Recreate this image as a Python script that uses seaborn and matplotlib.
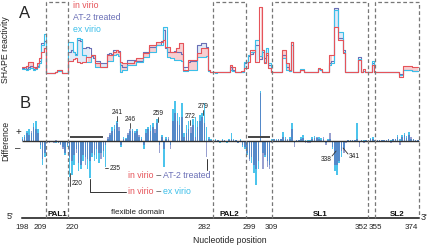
import numpy as np
import pandas as pd
import matplotlib.pyplot as plt
import seaborn as sns

sns.set_theme(style='white')
plt.rcParams['font.family'] = ['Liberation Sans', 'DejaVu Sans']

# nucleotide positions 198..374
nt = np.arange(198, 375)

# SHAPE reactivity (panel A), one value per nucleotide
in_virio = [
    .32, .32, .35, .55, .55, .30, .27, .50, .73, 1.00,
    1.18, .05, .05, .05, .05, .10, .18, .18, .05, .05,
    .05, .60, .60, .70, .73, .55, .50, .55, .55, .77,
    .77, .86, .86, .50, .50, .32, .32, .32, .86, .86,
    .86, 1.00, 1.09, 1.00, .55, .50, .50, .50, .50, .50,
    .60, .73, .73, .73, .95, .95, .95, 1.32, 1.32, 1.32,
    1.45, 1.45, 1.45, 1.55, 1.23, 1.23, 1.00, 1.00, 1.00, 1.20,
    1.41, 1.41, .20, .20, .64, .64, .64, .64, .95, .95,
    1.18, 1.18, 1.18, .18, .09, .09, .09, .09, .09, .09,
    .09, .09, .09, .41, .30, .09, .09, .09, .15, .27,
    .27, .55, 1.09, 1.09, .55, .55, 3.05, 1.09, .50, .95,
    .27, .09, .09, .09, .09, .09, 1.09, 1.09, .50, .18,
    1.45, .09, .09, .09, .18, .18, .09, .09, .09, .09,
    .09, .09, .27, .23, .09, .09, .09, .86, .86, 2.14,
    2.14, 1.55, 1.55, .95, .09, .09, .09, .09, .09, .09,
    .64, .09, .23, .09, .09, .09, .40, .09, .09, .09,
    .09, .09, .09, .09, .09, .09, .09, .09, -.14, -.14,
    .36, .36, .36, .36, .30, .30, .30]
at2_treated = [
    .27, .30, .25, .30, .35, .25, .30, .35, .60, 1.40,
    1.50, .05, .05, .05, .05, .10, .15, .20, .05, .05,
    .05, 1.00, 1.10, 1.00, .90, 1.55, 1.50, 1.18, 1.20, 1.23,
    1.20, .80, .75, .60, .60, .50, .50, .50, .90, .95,
    .90, 1.09, 1.09, 1.05, .40, .30, .30, .64, .64, .64,
    .64, .60, .60, .60, 1.00, 1.00, 1.00, 1.23, 1.23, 1.23,
    1.30, 1.30, 1.50, 2.00, 1.20, 1.00, 1.00, 1.00, 1.05, 1.00,
    1.00, .90, .30, .30, .55, .60, .60, .60, 1.32, 1.32,
    1.41, 1.41, 1.23, .20, .09, .09, .09, .09, .09, .09,
    .09, .09, .09, .30, .20, .09, .09, .09, .09, .50,
    .55, .80, .90, 1.00, 1.30, 1.30, .70, 1.00, .73, .86,
    .40, .09, .09, .09, .09, .09, .86, .86, .30, .15,
    1.45, .09, .09, .09, .18, .18, .09, .09, .09, .09,
    .09, .09, .23, .20, .09, .09, .09, .50, .60, 3.00,
    3.00, 1.64, 1.64, 1.09, .09, .09, .09, .09, .09, .09,
    .77, .09, .15, .09, .09, .09, .50, .09, .09, .09,
    .09, .09, .09, .09, .09, .09, .09, .09, .00, .00,
    .18, .18, .18, .18, .15, .15, .15]
ex_virio = [
    .23, .23, .20, .23, .27, .20, .23, .30, .50, 1.30,
    1.80, .05, .05, .05, .05, .10, .12, .15, .05, .05,
    .05, 1.45, 1.45, 1.00, .85, 1.64, 1.60, .86, .86, .55,
    .55, .86, .86, .32, .32, .30, .32, .30, .60, .60,
    .60, .86, .90, .80, .09, .20, .20, .41, .41, .41,
    .41, .55, .55, .55, .77, .77, .77, 1.00, 1.00, 1.00,
    1.32, 1.32, 1.32, 2.14, 2.14, .77, .73, .73, .64, .64,
    .64, .60, .15, .15, .18, .18, .18, .18, .77, .77,
    .77, .77, .80, .15, .09, .09, .05, .09, .09, .09,
    .09, .09, .09, .20, .15, .09, .09, .09, .09, .55,
    .55, .86, 1.00, 1.00, 1.55, 1.55, .80, 1.09, .55, 1.18,
    .50, .09, .09, .09, .09, .09, .73, .73, .20, .12,
    1.30, .09, .09, .09, .23, .23, .09, .09, .09, .09,
    .09, .09, .23, .20, .09, .09, .09, .40, .50, 2.90,
    2.90, 1.91, 1.91, 1.00, .09, .09, .09, .09, .09, .09,
    .70, .09, .12, .09, .09, .09, .59, .09, .09, .09,
    .09, .09, .09, .09, .09, .09, .09, .09, -.05, -.05,
    .18, .18, .18, .18, .15, .15, .15]

# differences (panel B)
diff_at2 = [
    .05, .10, .20, .15, .25, .35, .30, .20, -.10, -.45,
    -.30, -.05, -.05, -.03, -.05, .03, -.05, -.10, -.20, -.30,
    -.10, -.40, -.50, -.35, -.30, -.55, -.60, -.35, -.60, -.45,
    -.50, -.30, -.35, -.20, -.30, -.45, -.25, -.10, .10, .20,
    .25, .30, .45, .35, -.10, .05, .05, .20, .30, .25,
    .20, .25, .15, .05, -.10, .20, .30, .25, .35, .30,
    .45, -.30, .10, -.20, .05, .10, -.20, .50, .70, .50,
    .40, .60, .10, .20, .30, .35, .40, .10, .35, .50,
    .60, .45, -.40, .05, .03, -.04, .03, .02, -.03, .03,
    .02, -.03, .03, .05, .03, .02, -.04, .03, -.10, -.15,
    -.30, -.50, -.40, -.60, -.70, -.50, 1.20, -.70, -.35, -.65,
    -.70, -.05, .05, .03, .04, .05, .10, .05, .05, .05,
    .30, -.15, .03, .02, .05, .08, -.05, -.04, -.05, .05,
    .08, .10, .05, .03, .10, -.10, .03, .20, -.15, -.60,
    -.60, -.50, -.25, -.30, -.05, .03, .03, .03, .03, .05,
    -.15, .02, -.05, .03, .03, .05, .05, .03, .03, .03,
    .03, .03, .03, .05, -.05, .06, .05, .10, -.10, .10,
    .15, .08, .15, .10, .05, .02, .02]
diff_ex = [
    .10, .15, .25, .30, .20, .45, .50, .30, -.20, -.60,
    -.40, -.03, -.03, -.02, -.03, -.05, -.05, -.08, -.15, -.35,
    -.15, -.90, -.85, -.60, -.20, -.75, -.70, -.50, -.40, -.70,
    -.92, -.40, -.50, -.45, -.55, -.30, -.40, -.65, .05, .15,
    .35, .40, .50, .25, -.15, .10, .08, .15, .25, .30,
    .25, .30, .10, .10, -.20, .30, .35, .40, .45, .20,
    .55, -.10, .15, -.65, .10, .05, -.10, .80, 1.00, .70,
    .60, .95, .20, .40, .50, .20, .55, .60, .50, .65,
    .70, .95, .35, .10, .05, -.05, .05, .03, -.05, .05,
    .03, -.05, .05, .20, .05, .03, -.05, .05, -.15, -.20,
    -.35, -.45, -.55, -.80, -1.10, -.70, 1.25, -.30, -.40, -.50,
    -.60, .05, .05, .05, .05, .05, .22, .10, .03, .10,
    .45, -.05, .03, .03, .10, .15, .03, .03, .03, .10,
    .12, .07, .10, .08, .05, -.05, .05, .05, -.20, -.75,
    -.85, -.55, -.40, -.20, -.02, .03, .03, .03, .03, .45,
    -.05, .02, .03, .03, .03, .08, .10, .03, .03, .03,
    .03, .03, .03, .05, .03, .06, .05, .15, .05, .15,
    .20, .12, .22, .05, .05, .02, .02]

domains = ['PAL1', 'PAL2', 'SL1', 'SL2']
domain_bounds = [(208.5, 218.3), (282.8, 297.5), (309.1, 351.8), (354.9, 374.5)]
tick_nt = [198, 209, 220, 282, 299, 309, 352, 355, 374]
tick_ha = ['center', 'right', 'center', 'right', 'center', 'center', 'right', 'center', 'right']
peak_nt = [241, 246, 259, 272, 279]

RED = '#e6545a'
PURPLE = '#6a6fb6'
CYAN = '#3bbfe9'

W, H = 428, 247
PX = 2.247                       # pixels per nucleotide
X0 = 198 - 22.4 / PX
X1 = X0 + W / PX

fig = plt.figure(figsize=(W / 100, H / 100), dpi=100)


def band(top, bottom, **kw):
    return fig.add_axes([0, 1 - bottom / H, 1, (bottom - top) / H], **kw)


axA = band(2, 80)
axB = band(85, 200)
axD = band(200, 218)
ov = fig.add_axes([0, 0, 1, 1], zorder=5)
ov.patch.set_alpha(0)

# ---- panel A: step profiles
r, a, e = map(np.array, (in_virio, at2_treated, ex_virio))
lo, hi = np.minimum(a, e), np.maximum(a, e)
axA.fill_between(nt, r, lo, where=r > lo, step='mid', color='#f4a7aa', alpha=0.55, lw=0)
axA.fill_between(nt, r, hi, where=r < hi, step='mid', color='#b3cdee', alpha=0.4, lw=0)
dfA = pd.DataFrame({'nt': nt, 'AT-2 treated': a, 'ex virio': e, 'in virio': r})
dfA = dfA.melt('nt', var_name='sample', value_name='shape')
sns.lineplot(data=dfA, x='nt', y='shape', hue='sample',
             palette=[PURPLE, CYAN, RED], drawstyle='steps-mid',
             lw=0.8, legend=False, ax=axA)
axA.set_ylim(-0.27, 3.27)

# ---- panel B: difference bars
sns.barplot(x=nt, y=diff_ex, native_scale=True, color='#4cc4ec', saturation=1,
            width=0.7, errorbar=None, linewidth=0, edgecolor='none', ax=axB)
sns.barplot(x=nt, y=diff_at2, native_scale=True, color='#5a66b4', saturation=1,
            width=0.7, errorbar=None, alpha=0.62, linewidth=0, edgecolor='none',
            ax=axB)
axB.hlines(0, 197.8, 374.5, color='#333333', lw=1.0, zorder=4)
axB.set_ylim(-1.475, 1.4)

for ax in (axA, axB, ov):
    ax.set_xlim(X0, X1)
    ax.axis('off')
ov.set_ylim(H, 0)

# ---- bottom nucleotide axis
axD.set_xlim(X0, X1)
axD.set_facecolor('none')
for s in ('left', 'right', 'top'):
    axD.spines[s].set_visible(False)
axD.spines['bottom'].set_bounds(197.8, 374.5)
axD.spines['bottom'].set_color('#111111')
axD.spines['bottom'].set_linewidth(1.1)
axD.set_yticks([])
axD.set_xticks(tick_nt)
axD.set_xticklabels([str(t) for t in tick_nt])
axD.tick_params(axis='x', length=0, pad=4.5, labelsize=5.8, colors='#222222')
for lab, ha in zip(axD.get_xticklabels(), tick_ha):
    lab.set_ha(ha)
axD.set_xlabel('')

# dashed domain boxes
for (x_a, x_b) in domain_bounds:
    ov.plot([x_a, x_a, x_b, x_b], [218, 2, 2, 218], ls=(0, (3, 2)),
            color='#777777', lw=0.9)
for name, (x_a, x_b) in zip(domains, domain_bounds):
    ov.text((x_a + x_b) / 2, 214, name, ha='center', va='center',
            fontsize=5.8, fontweight='bold', color='#111111')
ov.text(249.5, 212, 'flexible domain', ha='center', va='center',
        fontsize=5.8, color='#222222')
ov.text(X0 + 10 / PX, 216, "5'", ha='center', va='center', fontsize=6.5)
ov.text(X0 + 424 / PX, 217, "3'", ha='center', va='center', fontsize=6.5)
ov.text(X0 + 230 / PX, 240, 'Nucleotide position', ha='center', va='center',
        fontsize=6.2, color='#222222')

# panel letters and axis titles
ov.text(X0 + 25 / PX, 14, 'A', ha='center', va='center', fontsize=12)
ov.text(X0 + 25 / PX, 103, 'B', ha='center', va='center', fontsize=12)
ov.text(X0 + 6 / PX, 50, 'SHAPE reactivity', rotation=90, ha='center',
        va='center', fontsize=6.3, color='#222222')
ov.text(X0 + 6 / PX, 141, 'Difference', rotation=90, ha='center',
        va='center', fontsize=6.3, color='#222222')
ov.text(X0 + 18 / PX, 132, '+', ha='center', va='center', fontsize=7)
ov.text(X0 + 18 / PX, 148, '–', ha='center', va='center', fontsize=7)

# legend of panel A
for lbl, col, y in [('in virio', RED, 5), ('AT-2 treated', PURPLE, 18),
                    ('ex virio', CYAN, 30)]:
    ov.text(220.5, y, lbl, color=col, ha='left', va='center', fontsize=6.3)

# peak labels in panel B
lab_x = [240.1, 246.0, 258.3, 272.5, 278.5]
lab_y = [112, 119, 113, 116, 106]
for p, x, y in zip(peak_nt, lab_x, lab_y):
    ov.text(x, y, str(p), ha='center', va='center', fontsize=4.8, color='#222222')
    ov.plot([x, x], [y + 4, y + 9], color='#333333', lw=0.6)
ov.text(219.8, 183, '220', ha='left', va='center', fontsize=4.8, color='#222222')
ov.plot([219.3, 219.3], [173, 186], color='#333333', lw=0.6)
ov.text(237.0, 168, '235', ha='left', va='center', fontsize=4.8, color='#222222')
ov.plot([234.6, 236.3], [168, 168], color='#333333', lw=0.6)
ov.text(333.1, 159, '338', ha='center', va='center', fontsize=4.8, color='#222222')
ov.plot([335.8, 337.6], [156, 151], color='#333333', lw=0.6)
ov.text(345.5, 156, '341', ha='center', va='center', fontsize=4.8, color='#222222')
ov.plot([340.7, 342.9], [148, 154], color='#333333', lw=0.6)

# bracket bars marking regions
ov.hlines(137, 219.2, 234.0, color='#444444', lw=1.4)
ov.hlines(137, 298.5, 308.3, color='#444444', lw=1.4)

# difference legend in panel B
ov.plot([280.1, 280.1], [159, 170], color='#333333', lw=0.7)
ov.plot([228.1, 228.1, 244.2], [179, 192, 192], color='#333333', lw=0.7)
for y, second, col in [(175, 'AT-2 treated', PURPLE), (191, 'ex virio', CYAN)]:
    t1 = ov.text(245.0, y, 'in virio', color=RED, ha='left', va='center',
                 fontsize=6.3)
    t2 = ov.annotate(' – ', xy=(1, 0), xycoords=t1, va='bottom',
                     color='#333333', fontsize=6.3)
    ov.annotate(second, xy=(1, 0), xycoords=t2, va='bottom', color=col,
                fontsize=6.3)

fig.savefig('out.png', dpi=100)
